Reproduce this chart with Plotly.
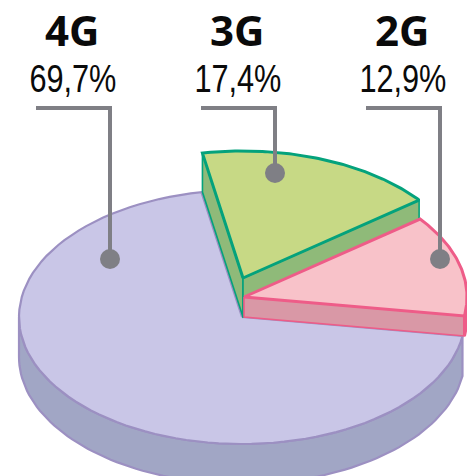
import numpy as np
import plotly.graph_objects as go

categories = ["4G", "3G", "2G"]
shares = [69.7, 17.4, 12.9]
share_labels = ["69,7%", "17,4%", "12,9%"]

W, H = 467, 476
START_ANGLE = -8.6      # where the 2G slice begins, counter-clockwise from east
RX, RY = 223, 127
CENTER = {"4G": (242, 317), "3G": (243, 278), "2G": (244, 297)}
DEPTH = {"4G": 40, "3G": 39, "2G": 20}
TOP = {"4G": "#C9C6E7", "3G": "#C7D985", "2G": "#F8C2C9"}
WALL = {"4G": "#A1A6C5", "3G": "#8FBA79", "2G": "#D998A6"}
EDGE = {"4G": "#9C90C2", "3G": "#04A27C", "2G": "#EE5C88"}
LINE_W = {"4G": 2.2, "3G": 3, "2G": 3}
LEADER = "#7F7F85"
LABEL_X = {"4G": 72, "3G": 237, "2G": 402}
LEADER_LEFT = {"4G": 36, "3G": 201, "2G": 366}
LEADER_X = {"4G": 110, "3G": 275, "2G": 440}
LEADER_END = {"4G": 259, "3G": 173, "2G": 259}

# slice angles, from the data
spans = {}
a = START_ANGLE
for name in ["2G", "3G", "4G"]:
    s = shares[categories.index(name)] * 3.6
    spans[name] = (a, a + s)
    a += s


def arc(name, t0, t1, dy=0, n=90):
    cx, cy = CENTER[name]
    t = np.radians(np.linspace(t0, t1, n))
    return cx + RX * np.cos(t), cy - RY * np.sin(t) + dy


fig = go.Figure()


def poly(x, y, fill, line, width):
    fig.add_trace(go.Scatter(
        x=list(x), y=list(y), mode="lines", fill="toself", fillcolor=fill,
        line=dict(color=line, width=width), hoverinfo="skip", showlegend=False))


def top_face(name):
    t0, t1 = spans[name]
    cx, cy = CENTER[name]
    x, y = arc(name, t0, t1)
    poly(np.r_[cx, x, cx], np.r_[cy, y, cy], TOP[name], EDGE[name], LINE_W[name])


def radial_wall(name, angle):
    cx, cy = CENTER[name]
    d = DEPTH[name]
    x, y = arc(name, angle, angle, n=1)
    poly([cx, x[0], x[0], cx, cx], [cy, y[0], y[0] + d, cy + d, cy], WALL[name], EDGE[name], 1.6)


def rim_wall(name, t0, t1):
    d = DEPTH[name]
    x, y = arc(name, t0, t1)
    poly(np.r_[x, x[::-1], x[0]], np.r_[y, y[::-1] + d, y[0]], WALL[name], EDGE[name], LINE_W[name])


# 4G: big base slice
rim_wall("4G", 180, spans["4G"][1])
top_face("4G")
# 3G: raised slice, walls first
radial_wall("3G", spans["3G"][1])
radial_wall("3G", spans["3G"][0])
top_face("3G")
# 2G: slice in front of 3G
radial_wall("2G", spans["2G"][0])
rim_wall("2G", spans["2G"][0], 0)
top_face("2G")

# leaders and labels
for name, pct in zip(categories, share_labels):
    fig.add_trace(go.Scatter(
        x=[LEADER_LEFT[name], LEADER_X[name], LEADER_X[name]],
        y=[108, 108, LEADER_END[name]],
        mode="lines", line=dict(color=LEADER, width=4),
        hoverinfo="skip", showlegend=False))
    fig.add_trace(go.Scatter(
        x=[LEADER_X[name]], y=[LEADER_END[name]], mode="markers",
        marker=dict(color=LEADER, size=20, line=dict(width=0)),
        hoverinfo="skip", showlegend=False))
    fig.add_annotation(x=LABEL_X[name], y=29, text=f"<b>{name}</b>", showarrow=False,
                       font=dict(family="Open Sans", size=42, color="#0A0A0A"))
    fig.add_annotation(x=LABEL_X[name] + 1, y=79, text=pct, showarrow=False,
                       font=dict(family="Liberation Sans", size=38, color="#0A0A0A"))

fig.update_layout(
    width=W, height=H, autosize=False,
    margin=dict(l=0, r=0, t=0, b=0),
    paper_bgcolor="white", plot_bgcolor="white", showlegend=False,
    xaxis=dict(range=[0, W], visible=False, fixedrange=True),
    yaxis=dict(range=[H, 0], visible=False, fixedrange=True),
)

POST = """
document.body.style.margin = '0';
document.documentElement.style.overflow = 'hidden';
function narrow() {
  document.querySelectorAll('.annotation-text').forEach(function (t) {
    if (t.textContent.indexOf('%') >= 0) {
      t.setAttribute('textLength', '87');
      t.setAttribute('lengthAdjust', 'spacingAndGlyphs');
    }
  });
}
narrow();
setTimeout(narrow, 50);
"""
fig.write_html("out.html", config={"displayModeBar": False}, post_script=POST)
